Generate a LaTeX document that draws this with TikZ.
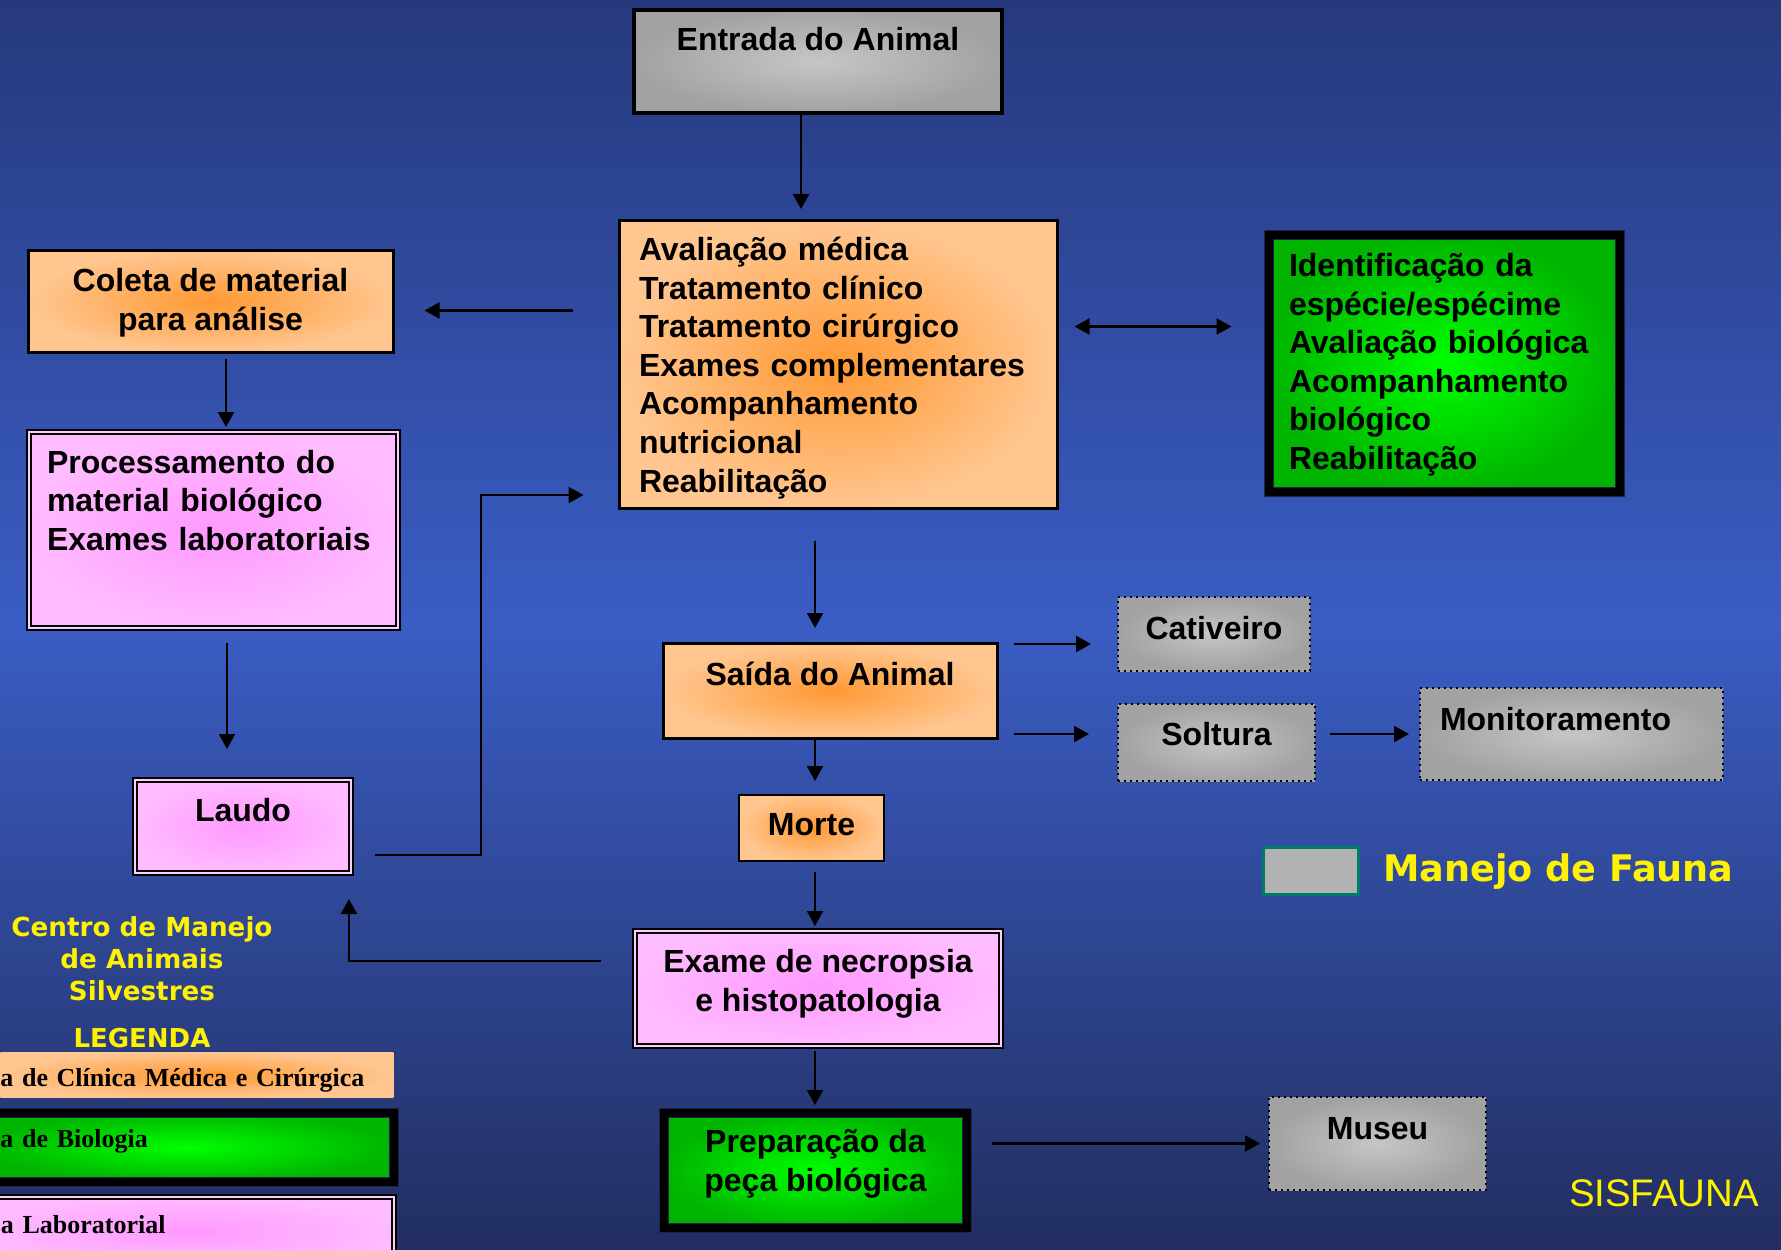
\documentclass[tikz,border=0pt]{standalone}
\usepackage{fontspec}
\setmainfont{Liberation Sans}
\newfontfamily\legendfont{DejaVu Sans}
\newfontfamily\barfont{Liberation Serif}
\usetikzlibrary{arrows.meta, positioning, calc}

\definecolor{bgtop}{HTML}{26397C}
\definecolor{bgmid}{HTML}{3A5DC4}
\definecolor{bgbot}{HTML}{222E60}
\definecolor{orgin}{HTML}{FF9933}
\definecolor{orgout}{HTML}{FFC690}
\definecolor{grayin}{HTML}{C6C6C6}
\definecolor{grayout}{HTML}{A2A2A2}
\definecolor{greenin}{HTML}{00FF00}
\definecolor{greenout}{HTML}{00B400}
\definecolor{pinkin}{HTML}{FF99FF}
\definecolor{pinkout}{HTML}{FFBBFF}
\definecolor{pinkgap}{HTML}{FFCCFF}
\definecolor{navyline}{HTML}{1A2456}
\definecolor{keyteal}{HTML}{007A6A}
\definecolor{keygray}{HTML}{B2B2B2}

\newcommand{\boxfont}{\bfseries\fontsize{16}{19.3}\selectfont}
\newcommand{\barsfont}{\barfont\bfseries\fontsize{13}{16}\selectfont}

\begin{document}
\begin{tikzpicture}[
        x=0.5pt, y=-0.5pt,
        every node/.style = {inner ysep=0pt, font=\boxfont},
        tpos/.style 2 args = {text height=#1, text depth=#2},
        graybox/.style   = {anchor=north, draw=black, line width=1.8pt,
                            inner color=grayin, outer color=grayout},
        dotbox/.style    = {anchor=north, draw=black, line width=1pt, dotted,
                            inner color=grayin, outer color=grayout},
        orangebox/.style = {anchor=north, draw=black, line width=1.5pt,
                            inner color=orgin, outer color=orgout},
        greenbox/.style  = {anchor=north, draw=navyline, line width=0.5pt,
                            double=black, double distance=4pt,
                            inner color=greenin, outer color=greenout},
        pinkbox/.style   = {anchor=north, draw=black, line width=1pt,
                            double=pinkgap, double distance=1.2pt,
                            inner color=pinkin, outer color=pinkout},
        yellowtext/.style = {text=yellow},
        arrow/.style    = {-{Triangle[length=7.5pt, width=8pt]}, line width=1.1pt, draw=black},
        dblarrow/.style = {{Triangle[length=7.5pt, width=8pt]}-{Triangle[length=7.5pt, width=8pt]},
                           line width=1.1pt, draw=black}
    ]

    % background
    \useasboundingbox (0,0) rectangle (1781,1249);
    \shade[top color=bgtop, bottom color=bgbot, middle color=bgmid] (0,0) rectangle (1781,1249);

    % --- centre column ---
    \node[graybox, tpos={20.5pt}{31pt}, minimum width=184pt, align=center] (entrada) at (818,8) {Entrada do Animal};
    \node[orangebox, tpos={20pt}{124pt}, inner xsep=10pt, text width=199pt, align=left] (ava) at (838,219)
        {Avaliação médica\\Tratamento clínico\\Tratamento cirúrgico\\Exames complementares\\Acompanhamento\\nutricional\\Reabilitação};
    \node[orangebox, tpos={21pt}{26.5pt}, minimum width=167pt] (saida) at (830,642) {Saída do Animal};
    \node[orangebox, line width=0.8pt, tpos={20.5pt}{12.5pt}, minimum width=72.5pt] (morte) at (811.5,794) {Morte};
    \node[pinkbox, tpos={40pt}{17.5pt}, minimum width=183pt, align=center] (exame) at (818,930) {Exame de necropsia\\e histopatologia};
    \node[greenbox, tpos={39.5pt}{18pt}, minimum width=151.5pt, align=center] (prep) at (815.5,1112) {Preparação da\\peça biológica};

    % --- right side ---
    \node[greenbox, tpos={21pt}{107.5pt}, inner xsep=10pt, text width=155.5pt, align=left] (ident) at (1444.5,234)
        {Identificação da\\espécie/espécime\\Avaliação biológica\\Acompanhamento\\biológico\\Reabilitação};
    \node[dotbox, tpos={21pt}{16pt}, minimum width=96pt] (cativeiro) at (1214,596) {Cativeiro};
    \node[dotbox, tpos={20.5pt}{18pt}, minimum width=98.5pt] (soltura) at (1216.5,703) {Soltura};
    \node[dotbox, tpos={21pt}{25pt}, inner xsep=10pt, text width=131.5pt, align=left] (monitor) at (1571.5,687) {Monitoramento};
    \node[dotbox, tpos={21pt}{25.5pt}, minimum width=108.5pt] (museu) at (1377.5,1096) {Museu};

    % --- left column ---
    \node[orangebox, tpos={40pt}{11pt}, minimum width=182.5pt, align=center] (coleta) at (210.5,249) {Coleta de material\\para análise};
    \node[pinkbox, tpos={20.5pt}{77.5pt}, inner xsep=9pt, text width=166.5pt, align=left] (proc) at (213.5,431)
        {Processamento do\\material biológico\\Exames laboratoriais};
    \node[pinkbox, tpos={20.5pt}{26pt}, minimum width=108pt, align=center] (laudo) at (243,779) {Laudo};

    % --- legend ---
    \node[draw=keyteal, line width=1.5pt, fill=keygray, minimum width=47.5pt, minimum height=23.5pt] (faunakey) at (1311,871) {};
    \node[yellowtext, anchor=base west, font=\legendfont\bfseries\fontsize{18.3}{22}\selectfont] (faunalabel) at (1376,881) {Manejo de Fauna};
    \node[yellowtext, anchor=north, tpos={50pt}{4pt}, align=center, font=\legendfont\bfseries\fontsize{13.1}{16}\selectfont] (centro) at (142,900)
        {Centro de Manejo\\de Animais\\Silvestres};
    \node[yellowtext, anchor=base, font=\legendfont\bfseries\fontsize{13}{16}\selectfont] (legenda) at (142,1047) {LEGENDA};
    \node[anchor=north west, tpos={17pt}{5.5pt}, inner xsep=0pt, text width=196.5pt, align=left,
          inner color=orgin, outer color=orgout, font=\barsfont] (legclin) at (0,1052) {a de Clínica Médica e Cirúrgica};
    \node[greenbox, anchor=north west, tpos={17.5pt}{17pt}, inner xsep=10pt, text width=186.5pt, align=left,
          font=\barsfont] (legbio) at (-20,1112) {a de Biologia};
    \node[pinkbox, anchor=north west, tpos={18pt}{16.5pt}, inner xsep=10pt, text width=186.5pt, align=left,
          font=\barsfont] (leglab) at (-20,1196) {a Laboratorial};
    \node[yellowtext, anchor=base west, font=\fontsize{19.2}{23}\selectfont] (sisfauna) at (1562,1206) {SISFAUNA};

    % --- arrows ---
    \coordinate (spine) at (815,0);
    \draw[arrow, shorten >=5pt] ([xshift=-8.5pt]entrada.south) -- ([xshift=-8.5pt]entrada.south |- ava.north);
    \draw[arrow, shorten <=22.5pt, shorten >=15pt] ([yshift=27pt]ava.west) -- ([yshift=27pt]ava.west -| coleta.east);
    \draw[dblarrow, shorten <=8pt, shorten >=18.5pt] ([yshift=19pt]ava.east) -- ([yshift=19pt]ava.east -| ident.west);
    \draw[arrow, shorten <=2.5pt, shorten >=2pt] ([xshift=7.75pt]coleta.south) -- ([xshift=7.75pt]coleta.south |- proc.north);
    \draw[arrow, shorten <=7pt, shorten >=15pt] ([xshift=6.75pt]proc.south) -- ([xshift=6.75pt]proc.south |- laudo.north);
    \draw[arrow] ([shift={(23,28.5)}]laudo.east) -- ++(106,0) |- ([xshift=-17pt, yshift=7.5pt]ava.south west);
    \draw[arrow] ([shift={(-33,-27.5)}]exame.west) -| ([shift={(-3,25)}]laudo.south east);

    \draw[arrow, shorten <=15.5pt, shorten >=7pt] (spine |- ava.south) -- (spine |- saida.north);
    \draw[arrow, shorten >=6.5pt] (spine |- saida.south) -- (spine |- morte.north);
    \draw[arrow, shorten <=5pt, shorten >=2pt] (spine |- morte.south) -- (spine |- exame.north);
    \draw[arrow, shorten <=2pt, shorten >=3.5pt] (spine |- exame.south) -- (spine |- prep.north);

    \draw[arrow, shorten <=7.5pt, shorten >=13pt] ([yshift=-5pt]saida.east |- cativeiro.west) -- ([yshift=-5pt]cativeiro.west);
    \draw[arrow, shorten <=7.5pt, shorten >=14pt] ([yshift=4.25pt]saida.east |- soltura.west) -- ([yshift=4.25pt]soltura.west);
    \draw[arrow, shorten <=7pt, shorten >=5pt] (soltura.east |- monitor.west) -- (monitor.west);
    \draw[arrow, shorten <=12pt, shorten >=4pt] (prep.east |- museu.west) -- (museu.west);

\end{tikzpicture}
\end{document}
